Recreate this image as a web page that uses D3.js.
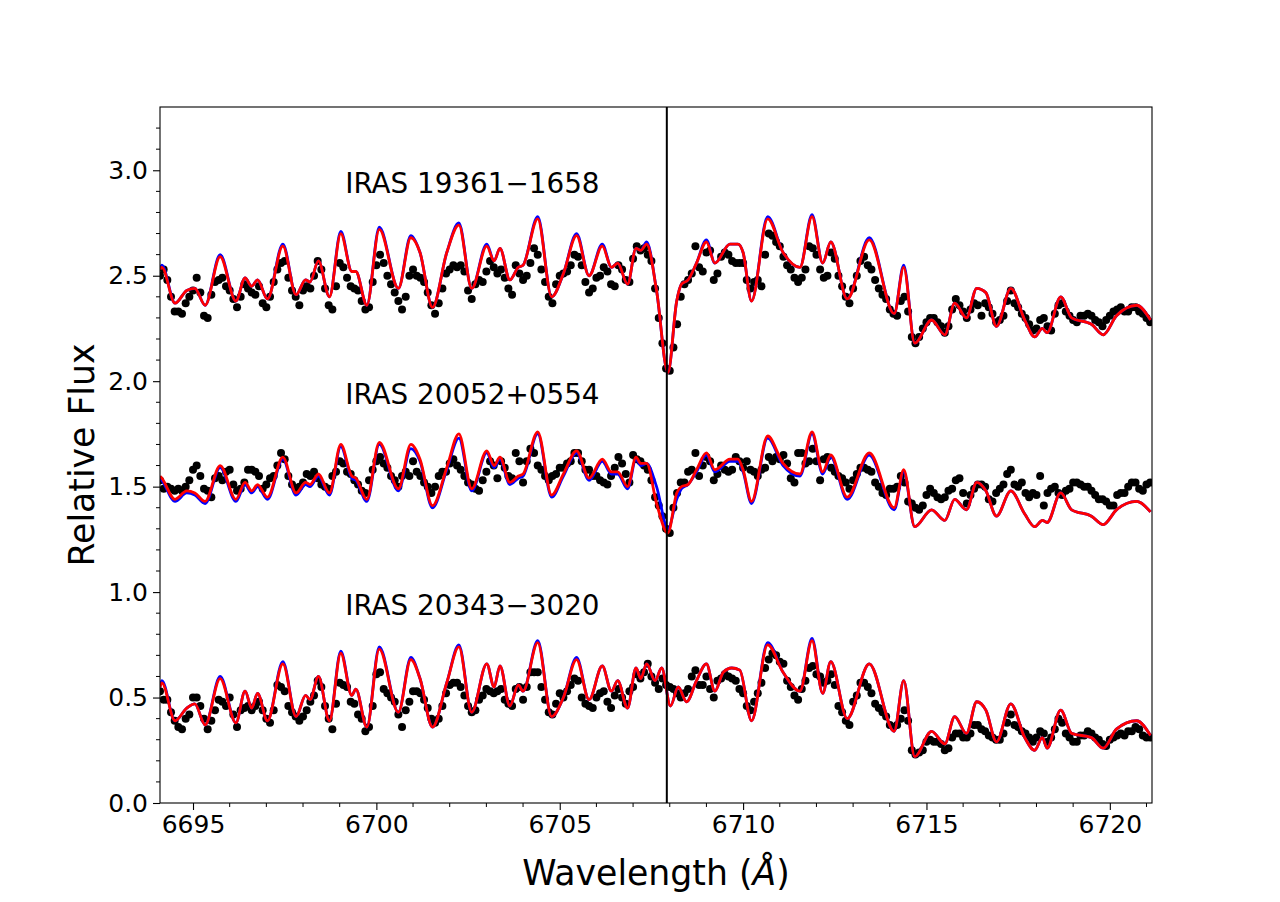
<!DOCTYPE html>
<html>
<head>
<meta charset="utf-8">
<script src="https://cdn.jsdelivr.net/npm/d3@7"></script>
<style>
  body { margin: 0; background: #fff; }
  text { font-family: "DejaVu Sans", sans-serif; }
</style>
</head>
<body>
<svg id="chart" width="1280" height="902"></svg>
<script>
// observed spectra: regular grid from obsStart, one value each obsStep
var obsStart = 6694.1, obsStep = 0.1;

var topObs = [2.50,2.53,2.48,2.40,2.33,2.33,2.32,2.37,2.40,2.43,
  2.49,2.42,2.31,2.30,2.41,2.47,2.48,2.49,2.45,2.43,
  2.39,2.35,2.40,2.46,2.44,2.42,2.41,2.45,2.37,2.35,
  2.40,2.47,2.53,2.56,2.57,2.49,2.43,2.40,2.36,2.43,
  2.45,2.44,2.50,2.57,2.53,2.44,2.36,2.34,2.45,2.56,
  2.54,2.49,2.45,2.44,2.43,2.38,2.34,2.35,2.47,2.55,
  2.60,2.56,2.50,2.46,2.42,2.38,2.34,2.40,2.50,2.53,
  2.50,2.49,2.47,2.42,2.36,2.32,2.37,2.44,2.51,2.53,
  2.55,2.54,2.55,2.52,2.43,2.39,2.46,2.48,2.47,2.52,
  2.57,2.54,2.51,2.53,2.49,2.44,2.41,2.55,2.51,2.48,
  2.50,2.56,2.63,2.60,2.53,2.47,2.40,2.37,2.46,2.50,
  2.51,2.52,2.55,2.60,2.59,2.55,2.47,2.42,2.44,2.49,
  2.50,2.54,2.52,2.46,2.45,2.55,2.53,2.48,2.47,2.58,
  2.64,2.62,2.63,2.60,2.57,2.44,2.30,2.18,2.06,2.05,
  2.16,2.27,2.40,2.46,2.48,2.51,2.64,2.54,2.52,2.61,
  2.62,2.48,2.51,2.59,2.61,2.60,2.57,2.56,2.56,2.56,
  2.48,2.44,2.47,2.48,2.45,2.60,2.70,2.69,2.66,2.64,
  2.59,2.55,2.53,2.49,2.47,2.49,2.53,2.64,2.63,2.60,
  2.53,2.49,2.50,2.61,2.58,2.50,2.45,2.40,2.37,2.44,
  2.50,2.57,2.59,2.55,2.53,2.48,2.44,2.41,2.39,2.34,
  2.32,2.31,2.38,2.40,2.33,2.21,2.18,2.21,2.25,2.28,
  2.30,2.30,2.28,2.26,2.23,2.26,2.34,2.39,2.36,2.33,
  2.30,2.34,2.37,2.36,2.31,2.37,2.35,2.32,2.28,2.29,
  2.31,2.38,2.43,2.37,2.35,2.32,2.30,2.27,2.24,2.25,
  2.29,2.30,2.26,2.24,2.32,2.36,2.37,2.33,2.31,2.29,
  2.28,2.31,2.31,2.32,2.31,2.29,2.28,2.26,2.29,2.31,
  2.33,2.34,2.35,2.33,2.33,2.35,2.35,2.33,2.32,2.30,2.28];

var midObs = [1.53,1.49,1.50,1.49,1.48,1.49,1.48,1.50,1.53,1.58,
  1.60,1.55,1.49,1.48,1.45,1.54,1.55,1.53,1.57,1.58,
  1.51,1.48,1.49,1.52,1.58,1.58,1.57,1.55,1.49,1.51,
  1.54,1.55,1.60,1.66,1.63,1.55,1.51,1.49,1.50,1.52,
  1.56,1.55,1.57,1.54,1.51,1.50,1.49,1.55,1.57,1.62,
  1.61,1.57,1.56,1.53,1.51,1.48,1.47,1.53,1.58,1.62,
  1.64,1.61,1.59,1.55,1.53,1.50,1.55,1.57,1.55,1.62,
  1.57,1.55,1.52,1.50,1.47,1.50,1.55,1.57,1.57,1.61,
  1.63,1.60,1.58,1.55,1.52,1.51,1.49,1.48,1.53,1.57,
  1.62,1.60,1.54,1.62,1.59,1.55,1.54,1.66,1.62,1.52,
  1.62,1.68,1.66,1.60,1.58,1.55,1.53,1.55,1.56,1.59,
  1.59,1.61,1.62,1.66,1.66,1.62,1.58,1.58,1.55,1.55,
  1.53,1.52,1.51,1.55,1.59,1.64,1.61,1.56,1.52,1.65,
  1.63,1.62,1.60,1.58,1.53,1.45,1.41,1.36,1.30,1.28,
  1.40,1.47,1.52,1.52,1.57,1.58,1.66,1.55,1.60,1.64,
  1.62,1.53,1.56,1.60,1.58,1.57,1.58,1.64,1.62,1.59,
  1.62,1.58,1.57,1.55,1.58,1.59,1.64,1.62,1.64,1.63,
  1.65,1.61,1.54,1.52,1.66,1.66,1.61,1.62,1.68,1.62,
  1.53,1.63,1.64,1.59,1.57,1.55,1.54,1.52,1.49,1.53,
  1.56,1.59,1.59,1.58,1.57,1.52,1.50,1.47,1.46,1.49,
  1.49,1.50,1.55,1.52,1.43,1.42,1.40,1.39,1.41,1.46,
  1.49,1.47,1.45,1.44,1.45,1.48,1.49,1.53,1.54,1.47,
  1.42,1.46,1.49,1.51,1.51,1.50,1.44,1.43,1.47,1.49,
  1.51,1.56,1.58,1.51,1.50,1.52,1.47,1.45,1.47,1.46,
  1.55,1.41,1.47,1.49,1.50,1.47,1.46,1.48,1.49,1.52,
  1.52,1.51,1.50,1.50,1.48,1.46,1.44,1.44,1.43,1.41,
  1.41,1.46,1.47,1.47,1.50,1.52,1.52,1.49,1.48,1.51,1.52];

var botObs = [0.53,0.49,0.49,0.43,0.39,0.36,0.35,0.40,0.42,0.50,
  0.50,0.46,0.40,0.35,0.39,0.44,0.49,0.48,0.46,0.50,
  0.42,0.36,0.44,0.45,0.46,0.44,0.46,0.48,0.44,0.40,
  0.38,0.44,0.56,0.55,0.53,0.46,0.43,0.41,0.39,0.41,
  0.44,0.48,0.51,0.58,0.55,0.46,0.40,0.35,0.47,0.57,
  0.56,0.55,0.48,0.47,0.42,0.40,0.34,0.36,0.46,0.61,
  0.62,0.54,0.52,0.50,0.48,0.42,0.36,0.44,0.48,0.53,
  0.53,0.52,0.49,0.45,0.40,0.38,0.40,0.46,0.52,0.56,
  0.57,0.57,0.55,0.51,0.46,0.43,0.44,0.49,0.51,0.54,
  0.53,0.52,0.53,0.54,0.49,0.47,0.46,0.54,0.55,0.49,
  0.55,0.62,0.62,0.62,0.55,0.49,0.43,0.42,0.47,0.52,
  0.50,0.53,0.56,0.59,0.58,0.50,0.47,0.46,0.45,0.50,
  0.52,0.53,0.48,0.45,0.51,0.54,0.50,0.47,0.53,0.55,
  0.61,0.59,0.62,0.66,0.60,0.57,0.54,0.59,0.56,0.55,
  0.54,0.52,0.50,0.52,0.54,0.60,0.63,0.56,0.56,0.60,
  0.54,0.50,0.58,0.59,0.61,0.60,0.59,0.58,0.54,0.52,
  0.46,0.44,0.48,0.52,0.57,0.64,0.68,0.71,0.70,0.67,
  0.66,0.58,0.55,0.51,0.49,0.54,0.58,0.64,0.65,0.61,
  0.60,0.57,0.58,0.61,0.56,0.46,0.43,0.39,0.37,0.48,
  0.51,0.57,0.57,0.55,0.52,0.47,0.45,0.43,0.41,0.37,
  0.36,0.37,0.40,0.44,0.39,0.25,0.23,0.24,0.25,0.29,
  0.30,0.29,0.29,0.28,0.25,0.26,0.31,0.33,0.33,0.31,
  0.31,0.33,0.37,0.37,0.35,0.34,0.32,0.31,0.30,0.30,
  0.33,0.38,0.42,0.37,0.36,0.34,0.33,0.31,0.29,0.31,
  0.34,0.33,0.29,0.31,0.35,0.40,0.38,0.33,0.31,0.29,
  0.29,0.32,0.32,0.34,0.33,0.31,0.30,0.28,0.27,0.30,
  0.31,0.32,0.33,0.32,0.34,0.34,0.36,0.35,0.32,0.31,0.31];

// synthetic spectra, sampled at the line's turning points
var waveA = [6694.10,6694.15,6694.51,6694.83,6695.05,6695.33,6695.74,6696.17,6696.42,6696.60,
  6696.76,6697.03,6697.45,6697.81,6698.07,6698.19,6698.42,6698.72,6699.03,6699.33,
  6699.44,6699.74,6700.08,6700.60,6700.94,6701.19,6701.53,6701.92,6702.25,6702.60,
  6703.01,6703.21,6703.37,6703.64,6703.87,6704.00,6704.40,6704.78,6705.10,6705.46,
  6705.80,6706.16,6706.41,6706.58,6706.85,6707.08,6707.21,6707.37,6707.64,6707.95,
  6708.19,6708.32,6708.50,6708.73,6709.00,6709.23,6709.64,6709.86,6710.00,6710.23,
  6710.67,6711.09,6711.55,6711.88,6712.17,6712.39,6712.84,6713.44,6714.12,6714.38,
  6714.68,6715.14,6715.50,6715.77,6716.09,6716.37,6716.62,6716.91,6717.30,6717.68,
  6717.95,6718.16,6718.29,6718.66,6718.96,6719.50,6719.82,6720.18,6720.73,6721.11];

var topRed = [2.53,2.54,2.37,2.43,2.44,2.36,2.59,2.38,2.49,2.45,
  2.48,2.39,2.64,2.41,2.48,2.47,2.57,2.40,2.70,2.52,
  2.52,2.36,2.72,2.44,2.68,2.61,2.35,2.61,2.74,2.44,
  2.64,2.57,2.63,2.48,2.54,2.55,2.77,2.40,2.51,2.69,
  2.50,2.64,2.54,2.56,2.46,2.63,2.62,2.65,2.43,2.04,
  2.38,2.46,2.48,2.56,2.66,2.56,2.65,2.65,2.61,2.38,
  2.77,2.61,2.54,2.78,2.56,2.66,2.39,2.67,2.32,2.54,
  2.18,2.29,2.22,2.37,2.30,2.44,2.42,2.26,2.44,2.29,
  2.21,2.25,2.23,2.40,2.30,2.27,2.22,2.31,2.36,2.29];

var topBlue = [2.53,2.55,2.37,2.43,2.44,2.36,2.60,2.38,2.49,2.45,
  2.48,2.39,2.65,2.41,2.48,2.47,2.57,2.40,2.71,2.52,
  2.52,2.36,2.73,2.44,2.69,2.61,2.35,2.61,2.75,2.44,
  2.65,2.57,2.63,2.48,2.54,2.55,2.78,2.40,2.51,2.70,
  2.50,2.65,2.54,2.56,2.46,2.63,2.62,2.66,2.43,2.04,
  2.38,2.46,2.48,2.56,2.67,2.56,2.65,2.65,2.61,2.38,
  2.78,2.61,2.54,2.79,2.56,2.66,2.39,2.68,2.32,2.55,
  2.18,2.29,2.22,2.37,2.30,2.44,2.42,2.26,2.44,2.29,
  2.21,2.25,2.23,2.40,2.30,2.27,2.22,2.31,2.36,2.29];

var midRed = [1.55,1.54,1.44,1.48,1.47,1.43,1.60,1.44,1.52,1.48,
  1.51,1.45,1.64,1.47,1.52,1.51,1.56,1.47,1.70,1.55,
  1.54,1.44,1.71,1.49,1.70,1.63,1.41,1.59,1.75,1.49,
  1.67,1.60,1.64,1.52,1.55,1.56,1.76,1.46,1.56,1.67,
  1.54,1.63,1.57,1.57,1.50,1.64,1.61,1.61,1.42,1.28,
  1.47,1.50,1.51,1.58,1.66,1.58,1.63,1.63,1.58,1.43,
  1.74,1.61,1.56,1.76,1.57,1.65,1.45,1.66,1.40,1.58,
  1.31,1.39,1.34,1.44,1.39,1.52,1.48,1.36,1.48,1.37,
  1.31,1.34,1.33,1.47,1.39,1.36,1.32,1.39,1.43,1.38];

var midBlue = [1.54,1.53,1.43,1.47,1.46,1.42,1.59,1.43,1.51,1.47,
  1.50,1.44,1.63,1.46,1.51,1.50,1.55,1.46,1.69,1.54,
  1.53,1.43,1.70,1.48,1.68,1.62,1.40,1.58,1.73,1.48,
  1.66,1.59,1.63,1.51,1.54,1.55,1.75,1.45,1.55,1.66,
  1.53,1.62,1.56,1.56,1.49,1.63,1.60,1.61,1.50,1.30,
  1.44,1.49,1.51,1.57,1.65,1.57,1.62,1.62,1.57,1.42,
  1.73,1.60,1.55,1.75,1.56,1.64,1.44,1.65,1.39,1.57,
  1.31,1.39,1.34,1.44,1.39,1.52,1.48,1.36,1.48,1.37,
  1.31,1.34,1.33,1.47,1.39,1.36,1.32,1.39,1.43,1.38];

var waveC = [6694.10,6694.15,6694.51,6694.83,6695.05,6695.33,6695.74,6696.17,6696.42,6696.60,
  6696.76,6697.03,6697.45,6697.81,6698.07,6698.19,6698.42,6698.72,6699.03,6699.33,
  6699.44,6699.74,6700.08,6700.60,6700.94,6701.19,6701.53,6701.92,6702.25,6702.60,
  6703.01,6703.21,6703.37,6703.64,6703.87,6704.00,6704.40,6704.78,6705.10,6705.46,
  6705.80,6706.16,6706.41,6706.58,6706.85,6707.08,6707.21,6707.37,6707.60,6707.78,
  6708.02,6708.23,6708.46,6708.73,6709.00,6709.23,6709.46,6709.69,6709.91,6710.23,
  6710.67,6711.09,6711.55,6711.88,6712.17,6712.39,6712.84,6713.44,6714.12,6714.38,
  6714.68,6715.14,6715.50,6715.77,6716.09,6716.37,6716.62,6716.91,6717.30,6717.68,
  6717.95,6718.16,6718.29,6718.66,6718.96,6719.50,6719.82,6720.18,6720.73,6721.11];

var botRed = [0.55,0.57,0.39,0.45,0.47,0.37,0.59,0.38,0.53,0.45,
  0.52,0.39,0.66,0.41,0.51,0.49,0.60,0.39,0.71,0.51,
  0.54,0.36,0.73,0.43,0.68,0.59,0.36,0.57,0.74,0.43,
  0.66,0.55,0.65,0.46,0.56,0.53,0.76,0.41,0.50,0.68,
  0.49,0.65,0.53,0.58,0.45,0.64,0.59,0.66,0.58,0.64,
  0.46,0.55,0.48,0.58,0.66,0.53,0.62,0.64,0.63,0.39,
  0.75,0.62,0.53,0.77,0.52,0.67,0.40,0.66,0.34,0.58,
  0.22,0.34,0.28,0.41,0.33,0.48,0.44,0.29,0.47,0.31,
  0.25,0.31,0.26,0.44,0.33,0.31,0.26,0.35,0.39,0.32];

var botBlue = [0.55,0.58,0.39,0.45,0.47,0.37,0.60,0.38,0.53,0.45,
  0.52,0.39,0.67,0.41,0.51,0.49,0.60,0.39,0.72,0.51,
  0.54,0.36,0.74,0.43,0.69,0.59,0.36,0.57,0.75,0.43,
  0.66,0.55,0.65,0.46,0.56,0.53,0.77,0.41,0.50,0.69,
  0.49,0.65,0.53,0.58,0.45,0.64,0.59,0.66,0.58,0.64,
  0.46,0.55,0.48,0.58,0.66,0.53,0.62,0.64,0.63,0.39,
  0.76,0.62,0.53,0.78,0.52,0.67,0.40,0.66,0.34,0.58,
  0.22,0.34,0.28,0.41,0.33,0.48,0.44,0.29,0.47,0.31,
  0.25,0.31,0.26,0.44,0.33,0.31,0.26,0.35,0.39,0.32];

var starNames = ['IRAS 19361\u22121658', 'IRAS 20052+0554', 'IRAS 20343\u22123020'];
var labelWave = 6699.15;
var labelFlux = [2.89, 1.89, 0.89];
var liWave = 6707.92;

var xTicks = [6695, 6700, 6705, 6710, 6715, 6720];
var yTicks = [0.0, 0.5, 1.0, 1.5, 2.0, 2.5, 3.0];

var margin = {top: 107, right: 128, bottom: 99, left: 160};
var width = 1280 - margin.left - margin.right;
var height = 902 - margin.top - margin.bottom;

var svg = d3.select('#chart');
var g = svg.append('g')
    .attr('transform', 'translate(' + margin.left + ',' + margin.top + ')');

var x = d3.scaleLinear().domain([6694.1, 6721.15]).range([0, width]);
var y = d3.scaleLinear().domain([0, 3.3]).range([height, 0]);

g.append('defs').append('clipPath').attr('id', 'plotClip')
    .append('rect').attr('width', width).attr('height', height);

var plot = g.append('g').attr('clip-path', 'url(#plotClip)');

var line = d3.line()
    .x(function(d) { return x(d[0]); })
    .y(function(d) { return y(d[1]); })
    .curve(d3.curveMonotoneX);

function pairs(wave, flux) {
    return wave.map(function(w, i) { return [w, flux[i]]; });
}

var spectra = [
    {obs: topObs, wave: waveA, blue: topBlue, red: topRed},
    {obs: midObs, wave: waveA, blue: midBlue, red: midRed},
    {obs: botObs, wave: waveC, blue: botBlue, red: botRed}
];

spectra.forEach(function(s) {
    plot.append('g').selectAll('circle')
        .data(s.obs)
        .enter().append('circle')
        .attr('cx', function(d, i) { return x(obsStart + i * obsStep); })
        .attr('cy', function(d) { return y(d); })
        .attr('r', 4)
        .style('fill', '#000');

    plot.append('path')
        .datum(pairs(s.wave, s.blue))
        .attr('d', line)
        .style('fill', 'none')
        .style('stroke', '#0000ff')
        .style('stroke-width', 2.8);

    plot.append('path')
        .datum(pairs(s.wave, s.red))
        .attr('d', line)
        .style('fill', 'none')
        .style('stroke', '#ff0000')
        .style('stroke-width', 2.8);
});

// Li I line
plot.append('line')
    .attr('x1', x(liWave)).attr('x2', x(liWave))
    .attr('y1', 0).attr('y2', height)
    .style('stroke', '#000')
    .style('stroke-width', 2);

// star names
g.selectAll('.starName')
    .data(starNames)
    .enter().append('text')
    .attr('class', 'starName')
    .attr('x', x(labelWave))
    .attr('y', function(d, i) { return y(labelFlux[i]); })
    .style('font-size', '27.8px')
    .style('fill', '#000')
    .text(function(d) { return d; });

// axes
var xAxis = d3.axisBottom(x).tickValues(xTicks).tickFormat(d3.format('d'))
    .tickSize(7).tickSizeOuter(0).tickPadding(5);
var yAxis = d3.axisLeft(y).tickValues(yTicks).tickFormat(d3.format('.1f'))
    .tickSize(7).tickSizeOuter(0).tickPadding(5);

var gx = g.append('g')
    .attr('transform', 'translate(0,' + height + ')')
    .call(xAxis);
var gy = g.append('g').call(yAxis);

// minor ticks
gx.selectAll('.minor')
    .data(d3.range(6695, 6722, 1).filter(function(d) { return d % 5 !== 0; }))
    .enter().append('line')
    .attr('class', 'minor')
    .attr('x1', function(d) { return x(d); }).attr('x2', function(d) { return x(d); })
    .attr('y1', 0).attr('y2', 4)
    .style('stroke', '#000');
gy.selectAll('.minor')
    .data(d3.range(1, 33).filter(function(d) { return d % 5 !== 0; }))
    .enter().append('line')
    .attr('class', 'minor')
    .attr('y1', function(d) { return y(d / 10); }).attr('y2', function(d) { return y(d / 10); })
    .attr('x1', 0).attr('x2', -4)
    .style('stroke', '#000');

[gx, gy].forEach(function(a) {
    a.select('.domain').remove();
    a.selectAll('.tick line').style('stroke', '#000').style('stroke-width', 1.1);
    a.selectAll('text')
        .style('font-family', '"DejaVu Sans", sans-serif')
        .style('font-size', '25px')
        .style('fill', '#000');
});

// frame
g.append('rect')
    .attr('width', width).attr('height', height)
    .style('fill', 'none')
    .style('stroke', '#000')
    .style('stroke-width', 1.1);

// axis titles
g.append('text')
    .attr('x', width / 2)
    .attr('y', height + 82)
    .style('text-anchor', 'middle')
    .style('font-size', '34.7px')
    .html('Wavelength (<tspan font-style="italic">\u00c5</tspan>)');

g.append('text')
    .attr('transform', 'translate(-66,' + (height / 2) + ') rotate(-90)')
    .style('text-anchor', 'middle')
    .style('font-size', '34.7px')
    .text('Relative Flux');
</script>
</body>
</html>
